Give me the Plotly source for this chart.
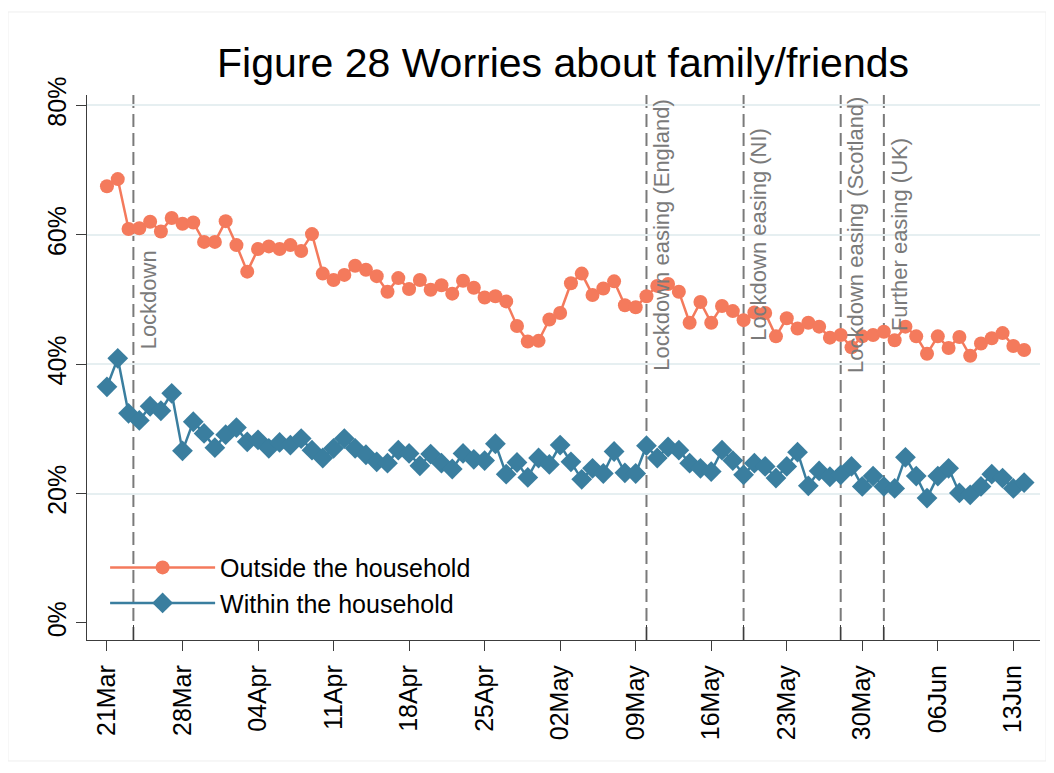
import pandas as pd
import plotly.graph_objects as go

# ---------------- data ----------------
start_date = "2020-03-21"
n_days = 86
dates = pd.date_range(start_date, periods=n_days, freq="D")

outside = [67.5, 68.6, 60.9, 61.0, 62.0, 60.5, 62.6, 61.7, 61.9, 58.9,
           58.9, 62.1, 58.4, 54.3, 57.8, 58.2, 57.8, 58.4, 57.5, 60.1,
           54.0, 53.0, 53.8, 55.2, 54.6, 53.6, 51.2, 53.3, 51.6, 53.0,
           51.5, 52.2, 50.9, 52.9, 51.8, 50.3, 50.5, 49.7, 45.9, 43.5,
           43.6, 46.9, 47.9, 52.5, 54.0, 50.7, 51.7, 52.8, 49.1, 48.8,
           50.5, 52.1, 52.4, 51.2, 46.4, 49.6, 46.4, 49.0, 48.2, 46.8,
           48.0, 47.9, 44.3, 47.1, 45.5, 46.4, 45.8, 44.1, 44.5, 42.6,
           44.3, 44.5, 45.0, 43.7, 45.8, 44.3, 41.6, 44.3, 42.5, 44.2,
           41.3, 43.2, 44.0, 44.8, 42.8, 42.2]

within = [36.5, 40.9, 32.4, 31.3, 33.5, 32.8, 35.5, 26.6, 31.1, 29.3,
          27.1, 29.1, 30.2, 28.0, 28.3, 27.0, 27.9, 27.5, 28.5, 26.7,
          25.5, 27.0, 28.5, 27.0, 26.0, 24.9, 24.7, 26.7, 26.2, 24.3,
          26.1, 24.7, 23.8, 26.2, 25.3, 25.1, 27.7, 23.0, 24.8, 22.5,
          25.5, 24.5, 27.5, 24.9, 22.2, 23.9, 23.1, 26.5, 23.2, 23.1,
          27.4, 25.5, 27.2, 26.7, 24.7, 23.9, 23.4, 26.7, 25.1, 22.9,
          24.7, 24.2, 22.4, 24.2, 26.4, 21.2, 23.5, 22.6, 22.9, 24.2,
          21.1, 22.7, 21.1, 20.8, 25.6, 22.7, 19.3, 22.7, 23.9, 20.1,
          19.8, 21.1, 23.0, 22.4, 20.8, 21.7]

series_names = ["Outside the household", "Within the household"]

event_dates = ["2020-03-23 10:48", "2020-05-10", "2020-05-19", "2020-05-28", "2020-06-01"]
event_labels = ["Lockdown", "Lockdown easing (England)", "Lockdown easing (NI)",
                "Lockdown easing (Scotland)", "Further easing (UK)"]
event_label_y = [50, 60, 60, 60, 60]

x_tick_dates = pd.date_range("2020-03-21", "2020-06-13", freq="7D")
y_tick_vals = [0, 20, 40, 60, 80]
y_tick_text = ["0%", "20%", "40%", "60%", "80%"]
y_grid_vals = [20, 40, 60, 80]

# ---------------- style ----------------
RED = "#F47A5C"
BLUE = "#3A7E9F"
GRAY = "#7a7a7a"
AX = "#3c3c3c"
FONT = "Liberation Sans, Arial, sans-serif"

fig = go.Figure()
fig.add_trace(go.Scatter(
    x=dates, y=outside, name=series_names[0], mode="lines+markers",
    line=dict(color=RED, width=2.5),
    marker=dict(symbol="circle", size=14, color=RED),
))
fig.add_trace(go.Scatter(
    x=dates, y=within, name=series_names[1], mode="lines+markers",
    line=dict(color=BLUE, width=2.5),
    marker=dict(symbol="diamond", size=16, color=BLUE),
))

x_range = ["2020-03-19 03:36", "2020-06-15 11:17"]
y_range = [-2.63, 81.6]

shapes = []
for d in event_dates:
    shapes.append(dict(type="line", xref="x", yref="paper", x0=d, x1=d, y0=0, y1=1,
                       line=dict(color=GRAY, width=2, dash="13px,6px"), layer="below"))
# faint outer graph-region border
shapes.append(dict(type="rect", xref="paper", yref="paper",
                   x0=-0.0829, x1=1.0063, y0=-0.222, y1=1.1523,
                   line=dict(color="#eeeeee", width=1)))

annotations = []
for d, lab, yy in zip(event_dates, event_labels, event_label_y):
    annotations.append(dict(x=d, y=yy, xref="x", yref="y", text=lab, showarrow=False,
                            textangle=-90, xanchor="left", yanchor="middle", xshift=1,
                            font=dict(family=FONT, size=22, color=GRAY)))

fig.update_layout(
    width=1054, height=773,
    margin=dict(l=79, r=22, t=87, b=141, autoexpand=False),
    paper_bgcolor="white", plot_bgcolor="white",
    title=dict(text="Figure 28 Worries about family/friends", x=0.5266, xanchor="center",
               y=0.929, yanchor="middle", yref="container",
               font=dict(family=FONT, size=41, color="black")),
    font=dict(family=FONT, color="black"),
    showlegend=True,
    legend=dict(x=0.019, y=0.175, xanchor="left", yanchor="top",
                bgcolor="rgba(0,0,0,0)", itemwidth=105,
                font=dict(family=FONT, size=25, color="black")),
    shapes=shapes,
    annotations=annotations,
    xaxis=dict(
        type="date", range=x_range, automargin=False,
        tickvals=list(x_tick_dates), tickformat="%d%b", tickangle=-90,
        ticks="outside", ticklen=10, tickwidth=1.3, tickcolor=AX,
        ticklabelstandoff=4,
        showline=True, linecolor=AX, linewidth=1.3,
        showgrid=False, zeroline=False,
        tickfont=dict(family=FONT, size=25, color="black"),
    ),
    xaxis2=dict(
        type="date", range=x_range, overlaying="x", anchor="y", side="bottom",
        automargin=False,
        tickvals=event_dates, ticks="inside", ticklen=15, tickwidth=1.3, tickcolor=AX,
        showticklabels=False, showline=False, showgrid=False, zeroline=False,
    ),
    yaxis=dict(
        range=y_range, automargin=False,
        tickvals=y_tick_vals, ticktext=y_tick_text, tickangle=-90,
        ticks="outside", ticklen=10, tickwidth=1.3, tickcolor=AX,
        showline=True, linecolor=AX, linewidth=1.3,
        showgrid=False, zeroline=False,
        tickfont=dict(family=FONT, size=25, color="black"),
    ),
    yaxis2=dict(
        range=y_range, overlaying="y", anchor="x", automargin=False,
        tickvals=y_grid_vals, showticklabels=False, ticks="",
        showgrid=True, gridcolor="#e6eff1", gridwidth=1.5,
        showline=False, zeroline=False, layer="below traces",
    ),
)

# invisible helper trace to activate the overlay axes (event ticks and grid)
fig.add_trace(go.Scatter(x=[event_dates[0]], y=[None], xaxis="x2", yaxis="y2",
                         showlegend=False, hoverinfo="skip", mode="markers",
                         marker=dict(opacity=0)))

fig.write_html("out.html")
